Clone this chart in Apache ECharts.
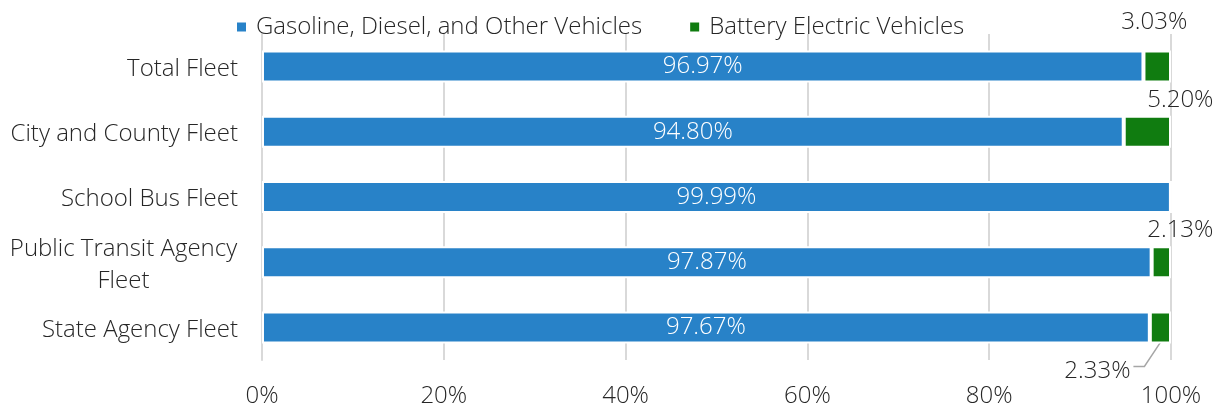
<!DOCTYPE html>
<html>
<head>
<meta charset="utf-8">
<script src="https://cdn.jsdelivr.net/npm/echarts@6/dist/echarts.min.js"></script>
<style>
  html, body { margin: 0; padding: 0; background: #fff; }
  #chart { width: 1223px; height: 408px; }
</style>
</head>
<body>
<div id="chart"></div>
<script>
var fleets = ['Total Fleet', 'City and County Fleet', 'School Bus Fleet', 'Public Transit Agency\nFleet', 'State Agency Fleet'];
var gasShare = [96.97, 94.80, 99.99, 97.87, 97.67];
var bevShare = [3.03, 5.20, 0.01, 2.13, 2.33];
var xTicks = [0, 20, 40, 60, 80, 100];

var font = '"Open Sans", "Noto Sans", sans-serif';
var fs = 24;
var ink = '#262626';
var chart = echarts.init(document.getElementById('chart'));

// where each small green label sits relative to its bar
var bevLabelPos = [
  { position: 'top', offset: [-3, -11] },
  { position: 'top', offset: [33, 1] },
  { show: false },
  { position: 'top', offset: [19, 1] },
  { position: 'bottom', offset: [-63, 11] }
];

var option = {
  animation: false,
  textStyle: { fontFamily: font, fontWeight: 300 },
  legend: {
    top: 10,
    left: 230,
    itemWidth: 11,
    itemHeight: 11,
    itemGap: 46,
    icon: 'rect',
    textStyle: { fontSize: fs, color: ink, fontFamily: font, fontWeight: 300, padding: [0, 0, 0, 4] }
  },
  grid: { left: 262, right: 52, top: 34, bottom: 43 },
  xAxis: {
    type: 'value',
    min: 0,
    max: 100,
    interval: 20,
    axisLine: { show: false },
    axisTick: { show: false },
    axisLabel: {
      fontSize: fs, color: ink, margin: 24, fontWeight: 300,
      formatter: function (v) { return xTicks.indexOf(v) >= 0 ? v + '%' : ''; }
    },
    splitLine: { lineStyle: { color: '#d9d9d9', width: 2 } }
  },
  yAxis: {
    type: 'category',
    inverse: true,
    data: fleets,
    axisLine: { lineStyle: { color: '#d9d9d9', width: 2 } },
    axisTick: { length: 8, lineStyle: { color: '#d0d0d0', width: 2 } },
    axisLabel: {
      fontSize: fs, color: ink, margin: 24, lineHeight: 32, fontWeight: 300,
      padding: [5, 0, 0, 0],
      formatter: function (v) {
        var parts = v.split('\n');
        if (parts.length === 1) return v;
        return '{a|' + parts[0] + '}\n{a|' + parts[1] + '}';
      },
      rich: {
        a: { fontSize: fs, color: ink, lineHeight: 32, fontWeight: 300, width: 229, align: 'center' }
      }
    }
  },
  series: [
    {
      name: 'Gasoline, Diesel, and Other Vehicles',
      type: 'bar',
      stack: 'fleet',
      barWidth: 32,
      data: gasShare,
      itemStyle: { color: '#2882c8', borderColor: '#ffffff', borderWidth: 2 },
      label: {
        show: true,
        position: 'inside',
        color: '#ffffff',
        fontSize: fs,
        fontWeight: 300,
        formatter: function (p) { return p.value.toFixed(2) + '%'; }
      }
    },
    {
      name: 'Battery Electric Vehicles',
      type: 'bar',
      stack: 'fleet',
      barWidth: 32,
      data: bevShare.map(function (v, i) {
        return { value: v, label: bevLabelPos[i] };
      }),
      itemStyle: { color: '#107c10', borderColor: '#ffffff', borderWidth: 2 },
      label: {
        show: true,
        color: ink,
        fontSize: fs,
        fontWeight: 300,
        formatter: function (p) { return p.value.toFixed(2) + '%'; }
      }
    }
  ]
};

chart.setOption(option);

// leader line for the State Agency label, anchored on the bar through the axes
var last = bevShare.length - 1;
var mid = chart.convertToPixel({ gridIndex: 0 }, [100 - bevShare[last] / 2, last]);
var y0 = mid[1] + 15;
chart.setOption({
  graphic: [{
    type: 'polyline',
    silent: true,
    shape: { points: [[mid[0], y0], [mid[0] - 16, y0 + 24], [mid[0] - 27, y0 + 24]] },
    style: { stroke: '#a6a6a6', lineWidth: 1.5, fill: null }
  }]
});
</script>
</body>
</html>
